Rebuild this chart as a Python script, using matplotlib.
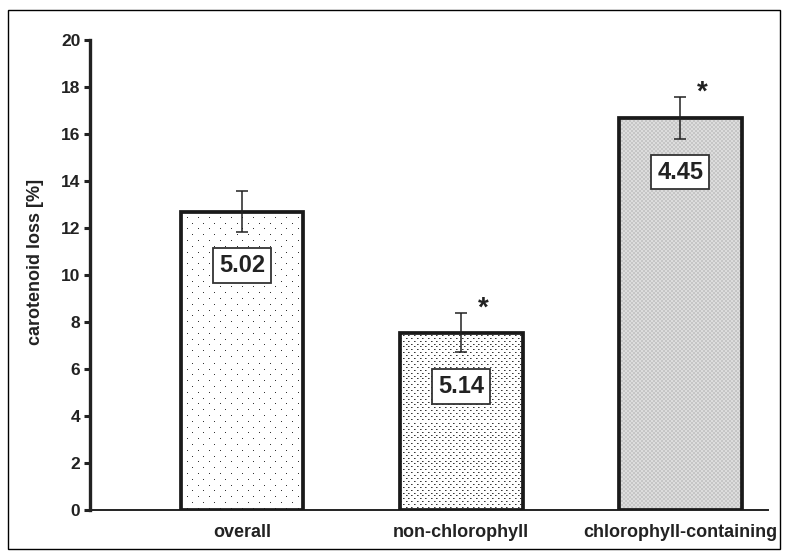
import matplotlib.pyplot as plt
from matplotlib.patches import Rectangle
import numpy as np

plt.rcParams['font.family'] = ['Liberation Sans', 'DejaVu Sans']

groups = ['overall', 'non-chlorophyll', 'chlorophyll-containing']
loss = [12.7, 7.55, 16.68]
err = [0.88, 0.83, 0.88]
box_labels = ['5.02', '5.14', '4.45']
significant = [False, True, True]
fills = ['sparse', 'dense', 'checker']


def texture(kind, w, h):
    """Pixel texture used to fill a bar of w x h pixels."""
    img = np.ones((h, w, 3))
    if kind == 'checker':
        yy, xx = np.mgrid[0:h, 0:w]
        cell = ((yy // 2) + (xx // 2)) % 2
        img[:] = np.where(cell[..., None] == 0, 0.78, 0.87)
        return img
    if kind == 'sparse':
        cx, ry, ink = 11.1, 5.8, 0.2
    else:
        cx, ry, ink = 5.6, 2.9, 0.22
    for j in range(int(h / ry) + 1):
        y = int(round(j * ry))
        if y >= h:
            continue
        off = (j % 2) * cx / 2
        for x in np.arange(off, w, cx):
            xi = int(round(x))
            if xi < w:
                img[y, xi] = ink
                if kind == 'dense' and xi + 1 < w:
                    img[y, xi + 1] = 0.55
    return img


fig = plt.figure(figsize=(7.87, 5.59), dpi=100)

# frame around the whole figure
fig.patches.append(Rectangle((8 / 787, 10 / 559), 772 / 787, 539 / 559,
                             transform=fig.transFigure, fill=False,
                             edgecolor='black', linewidth=1.0))

ax = fig.add_axes([90 / 787, 49 / 559, 678 / 787, 470 / 559])
ax.set_xlim(-0.694, 2.40)
ax.set_ylim(0, 20)
x = np.arange(len(groups))
width = 0.56

for i in range(len(groups)):
    bar = ax.bar(x[i], loss[i], width=width, facecolor='white',
                 edgecolor='#1a1a1a', linewidth=2.7, zorder=3)[0]
    x0, x1 = x[i] - width / 2, x[i] + width / 2
    (px0, py0), (px1, py1) = ax.transData.transform([(x0, 0), (x1, loss[i])])
    tex = texture(fills[i], int(round(px1 - px0)), int(round(py1 - py0)))
    im = ax.imshow(tex, extent=(x0, x1, 0, loss[i]), interpolation='nearest',
                   aspect='auto', zorder=2)
    im.set_clip_path(bar)
    bar.set_facecolor('none')

    ax.errorbar(x[i], loss[i], yerr=err[i], fmt='none', ecolor='#222222',
                elinewidth=1.1, capsize=4, capthick=1.1, zorder=4)
    ax.text(x[i], loss[i] - 2.3, box_labels[i], ha='center', va='center',
            fontsize=17, fontweight='bold', color='#222222', zorder=5,
            bbox=dict(boxstyle='square,pad=0.25', facecolor='white',
                      edgecolor='#333333', linewidth=1.3))
    if significant[i]:
        ax.text(x[i] + 0.1, loss[i] + err[i] - 0.35, '*', ha='center',
                va='bottom', fontsize=20, fontweight='bold', color='#222222')

ax.set_xlim(-0.694, 2.40)
ax.set_ylim(0, 20)
ax.set_yticks(np.arange(0, 21, 2))
ax.set_xticks(x)
ax.set_xticklabels(groups, fontsize=13, fontweight='bold')
for lbl in ax.get_yticklabels():
    lbl.set_fontweight('bold')
ax.tick_params(axis='y', direction='out', length=4, width=2.2, labelsize=12.5,
               pad=3, colors='#222222')
ax.tick_params(axis='x', length=0, pad=10, colors='#222222')
ax.set_ylabel('carotenoid loss [%]', fontsize=13, fontweight='bold',
              color='#222222')
ax.yaxis.set_label_coords(-0.068, 0.528)

for side in ['top', 'right']:
    ax.spines[side].set_visible(False)
ax.spines['left'].set_linewidth(2.4)
ax.spines['left'].set_color('#222222')
ax.spines['bottom'].set_linewidth(1.4)
ax.spines['bottom'].set_color('#222222')

fig.savefig('out.png', dpi=100)
